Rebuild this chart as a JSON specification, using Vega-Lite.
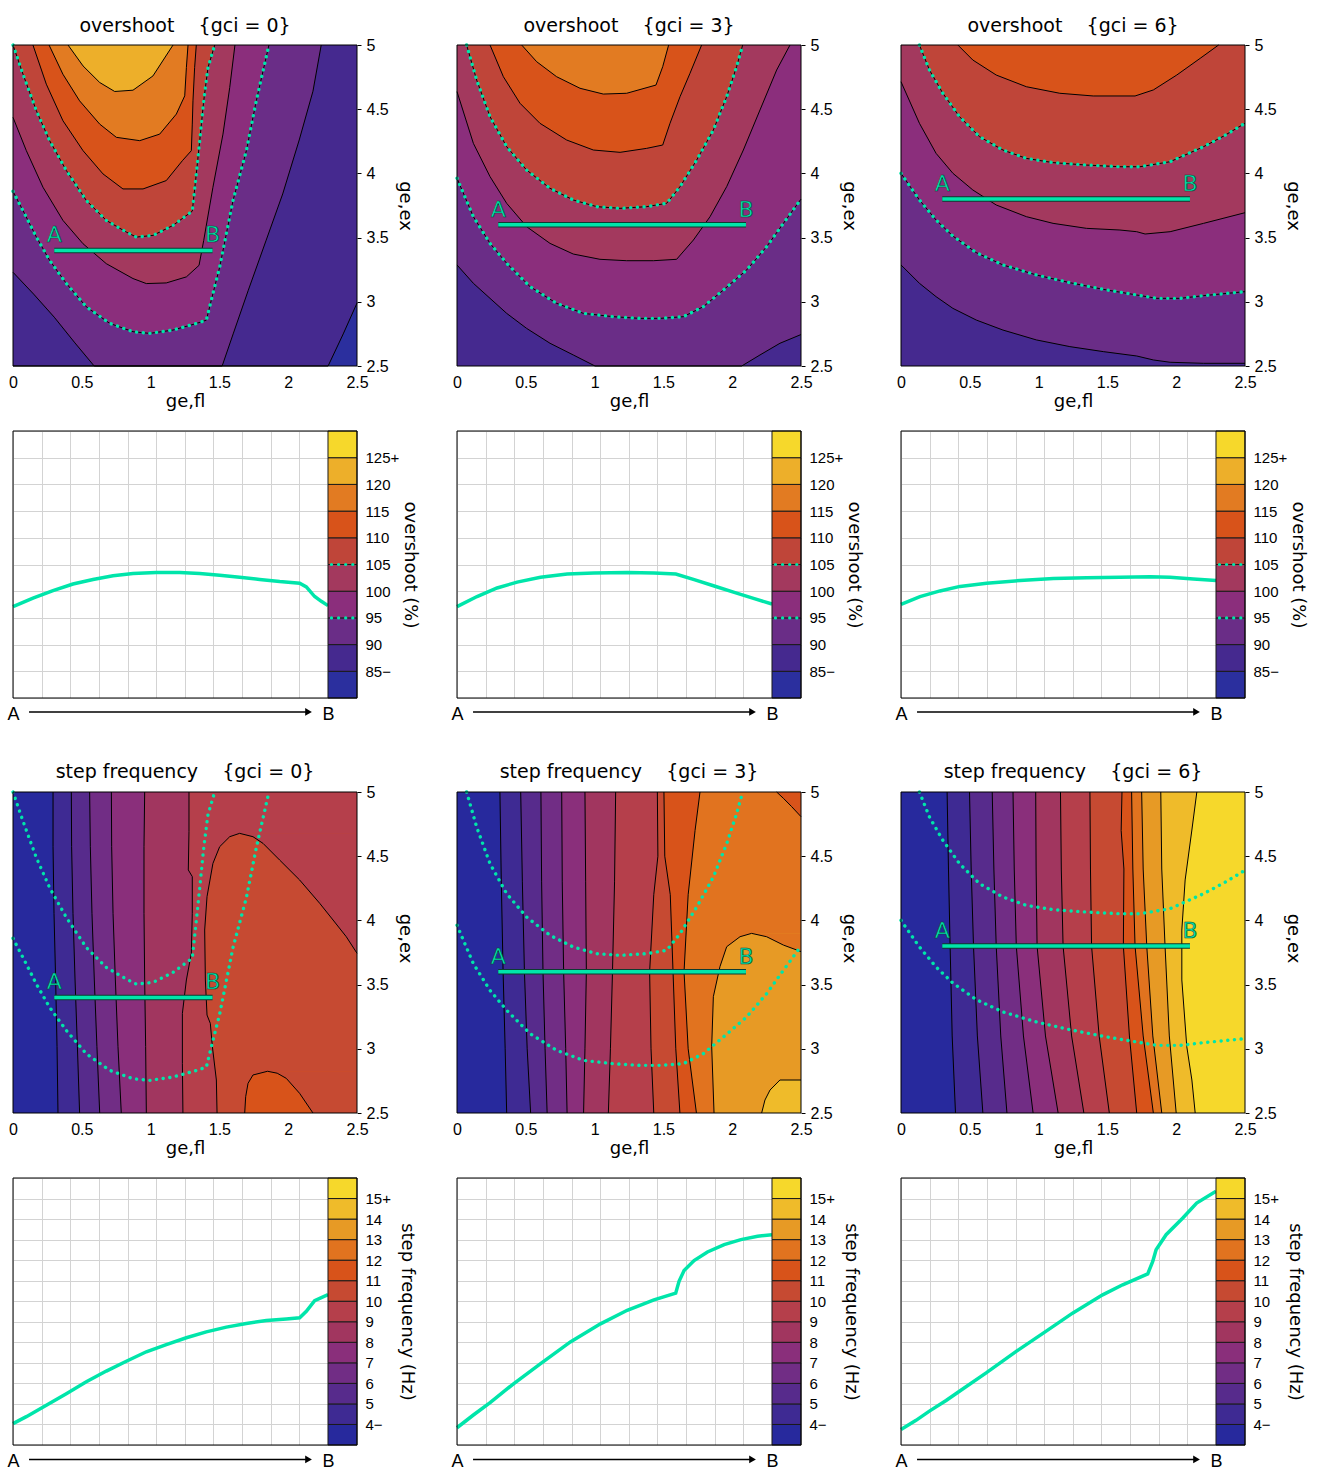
{
"$schema":"https://vega.github.io/schema/vega-lite/v6.json",
"padding":{"left":6,"top":17,"right":6,"bottom":0},
"config":{"font":"DejaVu Sans","view":{"stroke":null},"axis":{"labelFont":"Liberation Sans","titleFont":"DejaVu Sans","labelColor":"black","titleColor":"black"},"title":{"font":"DejaVu Sans","color":"black"},"text":{"font":"DejaVu Sans"}},
"resolve":{"scale":{"color":"independent"}},
"columns":3,
"spacing":{"row":65,"column":100},
"bounds":"flush",
"concat":[
{"width":344,"height":321,"title":{"text":"overshoot\u00a0\u00a0\u00a0\u00a0{gci = 0}","fontSize":19,"fontWeight":"normal","offset":1,"frame":"group"},
"encoding":{"x":{"type":"quantitative","stack":null,"scale":{"domain":[0,2.5],"nice":false,"zero":false},"axis":{"values":[0,0.5,1,1.5,2,2.5],"format":"~g","ticks":false,"domain":false,"grid":false,"labelFlush":false,"labelOverlap":false,"labelFontSize":16,"labelPadding":8,"title":"ge,fl","titleFontSize":18,"titleFontWeight":"normal","titlePadding":2}},"y":{"type":"quantitative","stack":null,"scale":{"domain":[2.5,5],"nice":false,"zero":false},"axis":{"orient":"right","values":[2.5,3,3.5,4,4.5,5],"format":"~g","tickSize":4,"tickColor":"black","domain":false,"grid":false,"labelFlush":false,"labelOverlap":false,"labelFontSize":16,"labelPadding":5,"title":"ge,ex","titleFontSize":18,"titleFontWeight":"normal","titlePadding":7}}},
"layer":[
{"data":{"values":[{}]},"mark":{"type":"rect","color":"#2b2f9e"},"encoding":{"x":{"datum":0},"x2":{"datum":2.5},"y":{"datum":2.5},"y2":{"datum":5}}},
{"data":{"name":"oc"},"transform":[{"filter":"datum.p==0"}],"mark":{"type":"area","orient":"vertical"},"encoding":{"x":{"field":"x"},"y":{"field":"y"},"y2":{"datum":5},"color":{"field":"b","type":"ordinal","scale":{"domain":[0,1,2,3,4,5,6,7,8,9],"range":["#2b2f9e","#45298f","#6a2d87","#8b2e7c","#a3395e","#bf4539","#d8531a","#e27b22","#edaf2a","#f6d82b"]},"legend":null},"order":{"value":null}}},
{"data":{"name":"oc"},"transform":[{"filter":"datum.p==0"}],"mark":{"type":"line","color":"black","strokeWidth":1},"encoding":{"x":{"field":"x"},"y":{"field":"y"},"detail":{"field":"b","type":"nominal"},"order":{"value":null}}},
{"data":{"name":"oc"},"transform":[{"filter":"datum.p==0&&(datum.b==3||datum.b==5)"}],"mark":{"type":"line","color":"#00e5aa","strokeWidth":3.4,"strokeDash":[0.1,6.6],"strokeCap":"round"},"encoding":{"x":{"field":"x"},"y":{"field":"y"},"detail":{"field":"b","type":"nominal"},"order":{"value":null}}},
{"data":{"name":"ab"},"transform":[{"filter":"datum.p==0"}],"mark":{"type":"line","color":"#0d3b31","strokeWidth":5.5},"encoding":{"x":{"field":"x"},"y":{"field":"y"}}},
{"data":{"name":"ab"},"transform":[{"filter":"datum.p==0"}],"mark":{"type":"line","color":"#00e5aa","strokeWidth":3.5},"encoding":{"x":{"field":"x"},"y":{"field":"y"}}},
{"data":{"name":"ab"},"transform":[{"filter":"datum.p==0"}],"mark":{"type":"text","fontSize":22,"dy":-15,"fill":"#00e5aa","stroke":"#0d3b31","strokeWidth":0.6},"encoding":{"x":{"field":"x"},"y":{"field":"y"},"text":{"field":"pt"}}},
{"data":{"values":[{}]},"mark":{"type":"rect","filled":false,"stroke":"black","strokeWidth":1},"encoding":{"x":{"datum":0},"x2":{"datum":2.5},"y":{"datum":2.5},"y2":{"datum":5}}}
]},
{"width":344,"height":321,"title":{"text":"overshoot\u00a0\u00a0\u00a0\u00a0{gci = 3}","fontSize":19,"fontWeight":"normal","offset":1,"frame":"group"},
"encoding":{"x":{"type":"quantitative","stack":null,"scale":{"domain":[0,2.5],"nice":false,"zero":false},"axis":{"values":[0,0.5,1,1.5,2,2.5],"format":"~g","ticks":false,"domain":false,"grid":false,"labelFlush":false,"labelOverlap":false,"labelFontSize":16,"labelPadding":8,"title":"ge,fl","titleFontSize":18,"titleFontWeight":"normal","titlePadding":2}},"y":{"type":"quantitative","stack":null,"scale":{"domain":[2.5,5],"nice":false,"zero":false},"axis":{"orient":"right","values":[2.5,3,3.5,4,4.5,5],"format":"~g","tickSize":4,"tickColor":"black","domain":false,"grid":false,"labelFlush":false,"labelOverlap":false,"labelFontSize":16,"labelPadding":5,"title":"ge,ex","titleFontSize":18,"titleFontWeight":"normal","titlePadding":7}}},
"layer":[
{"data":{"values":[{}]},"mark":{"type":"rect","color":"#45298f"},"encoding":{"x":{"datum":0},"x2":{"datum":2.5},"y":{"datum":2.5},"y2":{"datum":5}}},
{"data":{"name":"oc"},"transform":[{"filter":"datum.p==1"}],"mark":{"type":"area","orient":"vertical"},"encoding":{"x":{"field":"x"},"y":{"field":"y"},"y2":{"datum":5},"color":{"field":"b","type":"ordinal","scale":{"domain":[0,1,2,3,4,5,6,7,8,9],"range":["#2b2f9e","#45298f","#6a2d87","#8b2e7c","#a3395e","#bf4539","#d8531a","#e27b22","#edaf2a","#f6d82b"]},"legend":null},"order":{"value":null}}},
{"data":{"name":"oc"},"transform":[{"filter":"datum.p==1"}],"mark":{"type":"line","color":"black","strokeWidth":1},"encoding":{"x":{"field":"x"},"y":{"field":"y"},"detail":{"field":"b","type":"nominal"},"order":{"value":null}}},
{"data":{"name":"oc"},"transform":[{"filter":"datum.p==1&&(datum.b==3||datum.b==5)"}],"mark":{"type":"line","color":"#00e5aa","strokeWidth":3.4,"strokeDash":[0.1,6.6],"strokeCap":"round"},"encoding":{"x":{"field":"x"},"y":{"field":"y"},"detail":{"field":"b","type":"nominal"},"order":{"value":null}}},
{"data":{"name":"ab"},"transform":[{"filter":"datum.p==1"}],"mark":{"type":"line","color":"#0d3b31","strokeWidth":5.5},"encoding":{"x":{"field":"x"},"y":{"field":"y"}}},
{"data":{"name":"ab"},"transform":[{"filter":"datum.p==1"}],"mark":{"type":"line","color":"#00e5aa","strokeWidth":3.5},"encoding":{"x":{"field":"x"},"y":{"field":"y"}}},
{"data":{"name":"ab"},"transform":[{"filter":"datum.p==1"}],"mark":{"type":"text","fontSize":22,"dy":-15,"fill":"#00e5aa","stroke":"#0d3b31","strokeWidth":0.6},"encoding":{"x":{"field":"x"},"y":{"field":"y"},"text":{"field":"pt"}}},
{"data":{"values":[{}]},"mark":{"type":"rect","filled":false,"stroke":"black","strokeWidth":1},"encoding":{"x":{"datum":0},"x2":{"datum":2.5},"y":{"datum":2.5},"y2":{"datum":5}}}
]},
{"width":344,"height":321,"title":{"text":"overshoot\u00a0\u00a0\u00a0\u00a0{gci = 6}","fontSize":19,"fontWeight":"normal","offset":1,"frame":"group"},
"encoding":{"x":{"type":"quantitative","stack":null,"scale":{"domain":[0,2.5],"nice":false,"zero":false},"axis":{"values":[0,0.5,1,1.5,2,2.5],"format":"~g","ticks":false,"domain":false,"grid":false,"labelFlush":false,"labelOverlap":false,"labelFontSize":16,"labelPadding":8,"title":"ge,fl","titleFontSize":18,"titleFontWeight":"normal","titlePadding":2}},"y":{"type":"quantitative","stack":null,"scale":{"domain":[2.5,5],"nice":false,"zero":false},"axis":{"orient":"right","values":[2.5,3,3.5,4,4.5,5],"format":"~g","tickSize":4,"tickColor":"black","domain":false,"grid":false,"labelFlush":false,"labelOverlap":false,"labelFontSize":16,"labelPadding":5,"title":"ge,ex","titleFontSize":18,"titleFontWeight":"normal","titlePadding":7}}},
"layer":[
{"data":{"values":[{}]},"mark":{"type":"rect","color":"#45298f"},"encoding":{"x":{"datum":0},"x2":{"datum":2.5},"y":{"datum":2.5},"y2":{"datum":5}}},
{"data":{"name":"oc"},"transform":[{"filter":"datum.p==2"}],"mark":{"type":"area","orient":"vertical"},"encoding":{"x":{"field":"x"},"y":{"field":"y"},"y2":{"datum":5},"color":{"field":"b","type":"ordinal","scale":{"domain":[0,1,2,3,4,5,6,7,8,9],"range":["#2b2f9e","#45298f","#6a2d87","#8b2e7c","#a3395e","#bf4539","#d8531a","#e27b22","#edaf2a","#f6d82b"]},"legend":null},"order":{"value":null}}},
{"data":{"name":"oc"},"transform":[{"filter":"datum.p==2"}],"mark":{"type":"line","color":"black","strokeWidth":1},"encoding":{"x":{"field":"x"},"y":{"field":"y"},"detail":{"field":"b","type":"nominal"},"order":{"value":null}}},
{"data":{"name":"oc"},"transform":[{"filter":"datum.p==2&&(datum.b==3||datum.b==5)"}],"mark":{"type":"line","color":"#00e5aa","strokeWidth":3.4,"strokeDash":[0.1,6.6],"strokeCap":"round"},"encoding":{"x":{"field":"x"},"y":{"field":"y"},"detail":{"field":"b","type":"nominal"},"order":{"value":null}}},
{"data":{"name":"ab"},"transform":[{"filter":"datum.p==2"}],"mark":{"type":"line","color":"#0d3b31","strokeWidth":5.5},"encoding":{"x":{"field":"x"},"y":{"field":"y"}}},
{"data":{"name":"ab"},"transform":[{"filter":"datum.p==2"}],"mark":{"type":"line","color":"#00e5aa","strokeWidth":3.5},"encoding":{"x":{"field":"x"},"y":{"field":"y"}}},
{"data":{"name":"ab"},"transform":[{"filter":"datum.p==2"}],"mark":{"type":"text","fontSize":22,"dy":-15,"fill":"#00e5aa","stroke":"#0d3b31","strokeWidth":0.6},"encoding":{"x":{"field":"x"},"y":{"field":"y"},"text":{"field":"pt"}}},
{"data":{"values":[{}]},"mark":{"type":"rect","filled":false,"stroke":"black","strokeWidth":1},"encoding":{"x":{"datum":0},"x2":{"datum":2.5},"y":{"datum":2.5},"y2":{"datum":5}}}
]},
{"width":344,"height":267,
"encoding":{"x":{"type":"quantitative","scale":{"domain":[0,12.0127],"nice":false,"zero":false},"axis":{"values":[0,1,2,3,4,5,6,7,8,9,10,11],"grid":true,"gridColor":"#d3d3d3","ticks":false,"domain":false,"labelFlush":false,"labelOverlap":false,"labelExpr":"datum.value==0?'A':datum.value==11?'B':''","labelFontSize":18,"labelPadding":7,"title":null}},"y":{"type":"quantitative","scale":{"domain":[80,130],"nice":false,"zero":false},"axis":{"orient":"right","values":[80,85,90,95,100,105,110,115,120,125,130],"grid":true,"gridColor":"#d3d3d3","ticks":false,"domain":false,"labelFlush":false,"labelOverlap":false,"labelExpr":"datum.value==125?'125+':datum.value==85?'85\u2212':(datum.value>85&&datum.value<125)?datum.label:''","labelFontSize":15,"labelPadding":8,"title":"overshoot (%)","titleFontSize":18,"titleFontWeight":"normal","titlePadding":2}}},
"layer":[
{"data":{"name":"ol"},"transform":[{"filter":"datum.p==0"}],"mark":{"type":"line","color":"#00e5aa","strokeWidth":3.5},"encoding":{"x":{"field":"s"},"y":{"field":"v"}}},
{"data":{"name":"cbo"},"mark":{"type":"rect","stroke":"#1a1a1a","strokeWidth":1},"encoding":{"x":{"datum":11},"x2":{"datum":12.0127},"y":{"field":"lo"},"y2":{"field":"hi"},"color":{"field":"b","type":"ordinal","scale":{"domain":[0,1,2,3,4,5,6,7,8,9],"range":["#2b2f9e","#45298f","#6a2d87","#8b2e7c","#a3395e","#bf4539","#d8531a","#e27b22","#edaf2a","#f6d82b"]},"legend":null}}},
{"data":{"values":[{"v":95},{"v":105}]},"mark":{"type":"rule","color":"#00e5aa","strokeWidth":3.2,"strokeDash":[0.1,7],"strokeCap":"round"},"encoding":{"x":{"datum":11.12},"x2":{"datum":12.0},"y":{"field":"v"}}},
{"data":{"values":[{}]},"mark":{"type":"rect","filled":false,"stroke":"black","strokeWidth":1},"encoding":{"x":{"datum":0},"x2":{"datum":12.0127},"y":{"datum":80},"y2":{"datum":130}}},
{"data":{"values":[{}]},"mark":{"type":"rule","color":"black","strokeWidth":1.5,"clip":false},"encoding":{"x":{"datum":0.56},"x2":{"datum":10.3},"y":{"datum":77.4}}},
{"data":{"values":[{}]},"mark":{"type":"point","shape":"triangle-right","filled":true,"color":"black","opacity":1,"size":60,"clip":false},"encoding":{"x":{"datum":10.32},"y":{"datum":77.4}}}
]},
{"width":344,"height":267,
"encoding":{"x":{"type":"quantitative","scale":{"domain":[0,12.0127],"nice":false,"zero":false},"axis":{"values":[0,1,2,3,4,5,6,7,8,9,10,11],"grid":true,"gridColor":"#d3d3d3","ticks":false,"domain":false,"labelFlush":false,"labelOverlap":false,"labelExpr":"datum.value==0?'A':datum.value==11?'B':''","labelFontSize":18,"labelPadding":7,"title":null}},"y":{"type":"quantitative","scale":{"domain":[80,130],"nice":false,"zero":false},"axis":{"orient":"right","values":[80,85,90,95,100,105,110,115,120,125,130],"grid":true,"gridColor":"#d3d3d3","ticks":false,"domain":false,"labelFlush":false,"labelOverlap":false,"labelExpr":"datum.value==125?'125+':datum.value==85?'85\u2212':(datum.value>85&&datum.value<125)?datum.label:''","labelFontSize":15,"labelPadding":8,"title":"overshoot (%)","titleFontSize":18,"titleFontWeight":"normal","titlePadding":2}}},
"layer":[
{"data":{"name":"ol"},"transform":[{"filter":"datum.p==1"}],"mark":{"type":"line","color":"#00e5aa","strokeWidth":3.5},"encoding":{"x":{"field":"s"},"y":{"field":"v"}}},
{"data":{"name":"cbo"},"mark":{"type":"rect","stroke":"#1a1a1a","strokeWidth":1},"encoding":{"x":{"datum":11},"x2":{"datum":12.0127},"y":{"field":"lo"},"y2":{"field":"hi"},"color":{"field":"b","type":"ordinal","scale":{"domain":[0,1,2,3,4,5,6,7,8,9],"range":["#2b2f9e","#45298f","#6a2d87","#8b2e7c","#a3395e","#bf4539","#d8531a","#e27b22","#edaf2a","#f6d82b"]},"legend":null}}},
{"data":{"values":[{"v":95},{"v":105}]},"mark":{"type":"rule","color":"#00e5aa","strokeWidth":3.2,"strokeDash":[0.1,7],"strokeCap":"round"},"encoding":{"x":{"datum":11.12},"x2":{"datum":12.0},"y":{"field":"v"}}},
{"data":{"values":[{}]},"mark":{"type":"rect","filled":false,"stroke":"black","strokeWidth":1},"encoding":{"x":{"datum":0},"x2":{"datum":12.0127},"y":{"datum":80},"y2":{"datum":130}}},
{"data":{"values":[{}]},"mark":{"type":"rule","color":"black","strokeWidth":1.5,"clip":false},"encoding":{"x":{"datum":0.56},"x2":{"datum":10.3},"y":{"datum":77.4}}},
{"data":{"values":[{}]},"mark":{"type":"point","shape":"triangle-right","filled":true,"color":"black","opacity":1,"size":60,"clip":false},"encoding":{"x":{"datum":10.32},"y":{"datum":77.4}}}
]},
{"width":344,"height":267,
"encoding":{"x":{"type":"quantitative","scale":{"domain":[0,12.0127],"nice":false,"zero":false},"axis":{"values":[0,1,2,3,4,5,6,7,8,9,10,11],"grid":true,"gridColor":"#d3d3d3","ticks":false,"domain":false,"labelFlush":false,"labelOverlap":false,"labelExpr":"datum.value==0?'A':datum.value==11?'B':''","labelFontSize":18,"labelPadding":7,"title":null}},"y":{"type":"quantitative","scale":{"domain":[80,130],"nice":false,"zero":false},"axis":{"orient":"right","values":[80,85,90,95,100,105,110,115,120,125,130],"grid":true,"gridColor":"#d3d3d3","ticks":false,"domain":false,"labelFlush":false,"labelOverlap":false,"labelExpr":"datum.value==125?'125+':datum.value==85?'85\u2212':(datum.value>85&&datum.value<125)?datum.label:''","labelFontSize":15,"labelPadding":8,"title":"overshoot (%)","titleFontSize":18,"titleFontWeight":"normal","titlePadding":2}}},
"layer":[
{"data":{"name":"ol"},"transform":[{"filter":"datum.p==2"}],"mark":{"type":"line","color":"#00e5aa","strokeWidth":3.5},"encoding":{"x":{"field":"s"},"y":{"field":"v"}}},
{"data":{"name":"cbo"},"mark":{"type":"rect","stroke":"#1a1a1a","strokeWidth":1},"encoding":{"x":{"datum":11},"x2":{"datum":12.0127},"y":{"field":"lo"},"y2":{"field":"hi"},"color":{"field":"b","type":"ordinal","scale":{"domain":[0,1,2,3,4,5,6,7,8,9],"range":["#2b2f9e","#45298f","#6a2d87","#8b2e7c","#a3395e","#bf4539","#d8531a","#e27b22","#edaf2a","#f6d82b"]},"legend":null}}},
{"data":{"values":[{"v":95},{"v":105}]},"mark":{"type":"rule","color":"#00e5aa","strokeWidth":3.2,"strokeDash":[0.1,7],"strokeCap":"round"},"encoding":{"x":{"datum":11.12},"x2":{"datum":12.0},"y":{"field":"v"}}},
{"data":{"values":[{}]},"mark":{"type":"rect","filled":false,"stroke":"black","strokeWidth":1},"encoding":{"x":{"datum":0},"x2":{"datum":12.0127},"y":{"datum":80},"y2":{"datum":130}}},
{"data":{"values":[{}]},"mark":{"type":"rule","color":"black","strokeWidth":1.5,"clip":false},"encoding":{"x":{"datum":0.56},"x2":{"datum":10.3},"y":{"datum":77.4}}},
{"data":{"values":[{}]},"mark":{"type":"point","shape":"triangle-right","filled":true,"color":"black","opacity":1,"size":60,"clip":false},"encoding":{"x":{"datum":10.32},"y":{"datum":77.4}}}
]},
{"width":344,"height":350,"title":{"text":"step frequency\u00a0\u00a0\u00a0\u00a0{gci = 0}","fontSize":19,"fontWeight":"normal","offset":-19,"frame":"group"},
"encoding":{"x":{"type":"quantitative","stack":null,"scale":{"domain":[0,2.5],"nice":false,"zero":false},"axis":{"values":[0,0.5,1,1.5,2,2.5],"format":"~g","ticks":false,"domain":false,"grid":false,"labelFlush":false,"labelOverlap":false,"labelFontSize":16,"labelPadding":8,"title":"ge,fl","titleFontSize":18,"titleFontWeight":"normal","titlePadding":2}},"y":{"type":"quantitative","stack":null,"scale":{"domain":[2.5,5.2259],"nice":false,"zero":false},"axis":{"orient":"right","values":[2.5,3,3.5,4,4.5,5],"format":"~g","tickSize":4,"tickColor":"black","domain":false,"grid":false,"labelFlush":false,"labelOverlap":false,"labelFontSize":16,"labelPadding":5,"title":"ge,ex","titleFontSize":18,"titleFontWeight":"normal","titlePadding":7}}},
"layer":[
{"data":{"values":[{}]},"mark":{"type":"rect","color":"#27299d"},"encoding":{"x":{"datum":0},"x2":{"datum":2.5},"y":{"datum":2.5},"y2":{"datum":5}}},
{"data":{"name":"sc"},"transform":[{"filter":"datum.p==0"}],"mark":{"type":"area","orient":"horizontal"},"encoding":{"x":{"field":"x"},"x2":{"datum":2.5},"y":{"field":"y"},"color":{"field":"b","type":"ordinal","scale":{"domain":[0,1,2,3,4,5,6,7,8,9,10,11,12],"range":["#27299d","#3e2a93","#572b8c","#712d85","#8a2f7b","#a1365f","#b53f4b","#c64a32","#d8531a","#e1731f","#e79a25","#efbb2a","#f6d82b"]},"legend":null},"detail":{"field":"g","type":"nominal"},"order":{"value":null}}},
{"data":{"name":"sc"},"transform":[{"filter":"datum.p==0"}],"mark":{"type":"line","color":"black","strokeWidth":1},"encoding":{"x":{"field":"x"},"y":{"field":"y"},"detail":{"field":"g","type":"nominal"},"order":{"value":null}}},
{"data":{"name":"oc"},"transform":[{"filter":"datum.p==0&&(datum.b==3||datum.b==5)"}],"mark":{"type":"line","color":"#00e5aa","strokeWidth":3.4,"strokeDash":[0.1,6.6],"strokeCap":"round"},"encoding":{"x":{"field":"x"},"y":{"field":"y"},"detail":{"field":"b","type":"nominal"},"order":{"value":null}}},
{"data":{"name":"ab"},"transform":[{"filter":"datum.p==0"}],"mark":{"type":"line","color":"#0d3b31","strokeWidth":5.5},"encoding":{"x":{"field":"x"},"y":{"field":"y"}}},
{"data":{"name":"ab"},"transform":[{"filter":"datum.p==0"}],"mark":{"type":"line","color":"#00e5aa","strokeWidth":3.5},"encoding":{"x":{"field":"x"},"y":{"field":"y"}}},
{"data":{"name":"ab"},"transform":[{"filter":"datum.p==0"}],"mark":{"type":"text","fontSize":22,"dy":-15,"fill":"#00e5aa","stroke":"#0d3b31","strokeWidth":0.6},"encoding":{"x":{"field":"x"},"y":{"field":"y"},"text":{"field":"pt"}}},
{"data":{"values":[{}]},"mark":{"type":"rect","filled":false,"stroke":"black","strokeWidth":1},"encoding":{"x":{"datum":0},"x2":{"datum":2.5},"y":{"datum":2.5},"y2":{"datum":5}}}
]},
{"width":344,"height":350,"title":{"text":"step frequency\u00a0\u00a0\u00a0\u00a0{gci = 3}","fontSize":19,"fontWeight":"normal","offset":-19,"frame":"group"},
"encoding":{"x":{"type":"quantitative","stack":null,"scale":{"domain":[0,2.5],"nice":false,"zero":false},"axis":{"values":[0,0.5,1,1.5,2,2.5],"format":"~g","ticks":false,"domain":false,"grid":false,"labelFlush":false,"labelOverlap":false,"labelFontSize":16,"labelPadding":8,"title":"ge,fl","titleFontSize":18,"titleFontWeight":"normal","titlePadding":2}},"y":{"type":"quantitative","stack":null,"scale":{"domain":[2.5,5.2259],"nice":false,"zero":false},"axis":{"orient":"right","values":[2.5,3,3.5,4,4.5,5],"format":"~g","tickSize":4,"tickColor":"black","domain":false,"grid":false,"labelFlush":false,"labelOverlap":false,"labelFontSize":16,"labelPadding":5,"title":"ge,ex","titleFontSize":18,"titleFontWeight":"normal","titlePadding":7}}},
"layer":[
{"data":{"values":[{}]},"mark":{"type":"rect","color":"#27299d"},"encoding":{"x":{"datum":0},"x2":{"datum":2.5},"y":{"datum":2.5},"y2":{"datum":5}}},
{"data":{"name":"sc"},"transform":[{"filter":"datum.p==1"}],"mark":{"type":"area","orient":"horizontal"},"encoding":{"x":{"field":"x"},"x2":{"datum":2.5},"y":{"field":"y"},"color":{"field":"b","type":"ordinal","scale":{"domain":[0,1,2,3,4,5,6,7,8,9,10,11,12],"range":["#27299d","#3e2a93","#572b8c","#712d85","#8a2f7b","#a1365f","#b53f4b","#c64a32","#d8531a","#e1731f","#e79a25","#efbb2a","#f6d82b"]},"legend":null},"detail":{"field":"g","type":"nominal"},"order":{"value":null}}},
{"data":{"name":"sc"},"transform":[{"filter":"datum.p==1"}],"mark":{"type":"line","color":"black","strokeWidth":1},"encoding":{"x":{"field":"x"},"y":{"field":"y"},"detail":{"field":"g","type":"nominal"},"order":{"value":null}}},
{"data":{"name":"oc"},"transform":[{"filter":"datum.p==1&&(datum.b==3||datum.b==5)"}],"mark":{"type":"line","color":"#00e5aa","strokeWidth":3.4,"strokeDash":[0.1,6.6],"strokeCap":"round"},"encoding":{"x":{"field":"x"},"y":{"field":"y"},"detail":{"field":"b","type":"nominal"},"order":{"value":null}}},
{"data":{"name":"ab"},"transform":[{"filter":"datum.p==1"}],"mark":{"type":"line","color":"#0d3b31","strokeWidth":5.5},"encoding":{"x":{"field":"x"},"y":{"field":"y"}}},
{"data":{"name":"ab"},"transform":[{"filter":"datum.p==1"}],"mark":{"type":"line","color":"#00e5aa","strokeWidth":3.5},"encoding":{"x":{"field":"x"},"y":{"field":"y"}}},
{"data":{"name":"ab"},"transform":[{"filter":"datum.p==1"}],"mark":{"type":"text","fontSize":22,"dy":-15,"fill":"#00e5aa","stroke":"#0d3b31","strokeWidth":0.6},"encoding":{"x":{"field":"x"},"y":{"field":"y"},"text":{"field":"pt"}}},
{"data":{"values":[{}]},"mark":{"type":"rect","filled":false,"stroke":"black","strokeWidth":1},"encoding":{"x":{"datum":0},"x2":{"datum":2.5},"y":{"datum":2.5},"y2":{"datum":5}}}
]},
{"width":344,"height":350,"title":{"text":"step frequency\u00a0\u00a0\u00a0\u00a0{gci = 6}","fontSize":19,"fontWeight":"normal","offset":-19,"frame":"group"},
"encoding":{"x":{"type":"quantitative","stack":null,"scale":{"domain":[0,2.5],"nice":false,"zero":false},"axis":{"values":[0,0.5,1,1.5,2,2.5],"format":"~g","ticks":false,"domain":false,"grid":false,"labelFlush":false,"labelOverlap":false,"labelFontSize":16,"labelPadding":8,"title":"ge,fl","titleFontSize":18,"titleFontWeight":"normal","titlePadding":2}},"y":{"type":"quantitative","stack":null,"scale":{"domain":[2.5,5.2259],"nice":false,"zero":false},"axis":{"orient":"right","values":[2.5,3,3.5,4,4.5,5],"format":"~g","tickSize":4,"tickColor":"black","domain":false,"grid":false,"labelFlush":false,"labelOverlap":false,"labelFontSize":16,"labelPadding":5,"title":"ge,ex","titleFontSize":18,"titleFontWeight":"normal","titlePadding":7}}},
"layer":[
{"data":{"values":[{}]},"mark":{"type":"rect","color":"#27299d"},"encoding":{"x":{"datum":0},"x2":{"datum":2.5},"y":{"datum":2.5},"y2":{"datum":5}}},
{"data":{"name":"sc"},"transform":[{"filter":"datum.p==2"}],"mark":{"type":"area","orient":"horizontal"},"encoding":{"x":{"field":"x"},"x2":{"datum":2.5},"y":{"field":"y"},"color":{"field":"b","type":"ordinal","scale":{"domain":[0,1,2,3,4,5,6,7,8,9,10,11,12],"range":["#27299d","#3e2a93","#572b8c","#712d85","#8a2f7b","#a1365f","#b53f4b","#c64a32","#d8531a","#e1731f","#e79a25","#efbb2a","#f6d82b"]},"legend":null},"detail":{"field":"g","type":"nominal"},"order":{"value":null}}},
{"data":{"name":"sc"},"transform":[{"filter":"datum.p==2"}],"mark":{"type":"line","color":"black","strokeWidth":1},"encoding":{"x":{"field":"x"},"y":{"field":"y"},"detail":{"field":"g","type":"nominal"},"order":{"value":null}}},
{"data":{"name":"oc"},"transform":[{"filter":"datum.p==2&&(datum.b==3||datum.b==5)"}],"mark":{"type":"line","color":"#00e5aa","strokeWidth":3.4,"strokeDash":[0.1,6.6],"strokeCap":"round"},"encoding":{"x":{"field":"x"},"y":{"field":"y"},"detail":{"field":"b","type":"nominal"},"order":{"value":null}}},
{"data":{"name":"ab"},"transform":[{"filter":"datum.p==2"}],"mark":{"type":"line","color":"#0d3b31","strokeWidth":5.5},"encoding":{"x":{"field":"x"},"y":{"field":"y"}}},
{"data":{"name":"ab"},"transform":[{"filter":"datum.p==2"}],"mark":{"type":"line","color":"#00e5aa","strokeWidth":3.5},"encoding":{"x":{"field":"x"},"y":{"field":"y"}}},
{"data":{"name":"ab"},"transform":[{"filter":"datum.p==2"}],"mark":{"type":"text","fontSize":22,"dy":-15,"fill":"#00e5aa","stroke":"#0d3b31","strokeWidth":0.6},"encoding":{"x":{"field":"x"},"y":{"field":"y"},"text":{"field":"pt"}}},
{"data":{"values":[{}]},"mark":{"type":"rect","filled":false,"stroke":"black","strokeWidth":1},"encoding":{"x":{"datum":0},"x2":{"datum":2.5},"y":{"datum":2.5},"y2":{"datum":5}}}
]},
{"width":344,"height":267,
"encoding":{"x":{"type":"quantitative","scale":{"domain":[0,12.0127],"nice":false,"zero":false},"axis":{"values":[0,1,2,3,4,5,6,7,8,9,10,11],"grid":true,"gridColor":"#d3d3d3","ticks":false,"domain":false,"labelFlush":false,"labelOverlap":false,"labelExpr":"datum.value==0?'A':datum.value==11?'B':''","labelFontSize":18,"labelPadding":7,"title":null}},"y":{"type":"quantitative","scale":{"domain":[3,16],"nice":false,"zero":false},"axis":{"orient":"right","values":[3,4,5,6,7,8,9,10,11,12,13,14,15,16],"grid":true,"gridColor":"#d3d3d3","ticks":false,"domain":false,"labelFlush":false,"labelOverlap":false,"labelExpr":"datum.value==15?'15+':datum.value==4?'4\u2212':(datum.value>4&&datum.value<15)?datum.label:''","labelFontSize":15,"labelPadding":8,"title":"step frequency (Hz)","titleFontSize":18,"titleFontWeight":"normal","titlePadding":7}}},
"layer":[
{"data":{"name":"sl"},"transform":[{"filter":"datum.p==0"}],"mark":{"type":"line","color":"#00e5aa","strokeWidth":3.5},"encoding":{"x":{"field":"s"},"y":{"field":"v"}}},
{"data":{"name":"cbs"},"mark":{"type":"rect","stroke":"#1a1a1a","strokeWidth":1},"encoding":{"x":{"datum":11},"x2":{"datum":12.0127},"y":{"field":"lo"},"y2":{"field":"hi"},"color":{"field":"b","type":"ordinal","scale":{"domain":[0,1,2,3,4,5,6,7,8,9,10,11,12],"range":["#27299d","#3e2a93","#572b8c","#712d85","#8a2f7b","#a1365f","#b53f4b","#c64a32","#d8531a","#e1731f","#e79a25","#efbb2a","#f6d82b"]},"legend":null}}},
{"data":{"values":[{}]},"mark":{"type":"rect","filled":false,"stroke":"black","strokeWidth":1},"encoding":{"x":{"datum":0},"x2":{"datum":12.0127},"y":{"datum":3},"y2":{"datum":16}}},
{"data":{"values":[{}]},"mark":{"type":"rule","color":"black","strokeWidth":1.5,"clip":false},"encoding":{"x":{"datum":0.56},"x2":{"datum":10.3},"y":{"datum":2.3}}},
{"data":{"values":[{}]},"mark":{"type":"point","shape":"triangle-right","filled":true,"color":"black","opacity":1,"size":60,"clip":false},"encoding":{"x":{"datum":10.32},"y":{"datum":2.3}}}
]},
{"width":344,"height":267,
"encoding":{"x":{"type":"quantitative","scale":{"domain":[0,12.0127],"nice":false,"zero":false},"axis":{"values":[0,1,2,3,4,5,6,7,8,9,10,11],"grid":true,"gridColor":"#d3d3d3","ticks":false,"domain":false,"labelFlush":false,"labelOverlap":false,"labelExpr":"datum.value==0?'A':datum.value==11?'B':''","labelFontSize":18,"labelPadding":7,"title":null}},"y":{"type":"quantitative","scale":{"domain":[3,16],"nice":false,"zero":false},"axis":{"orient":"right","values":[3,4,5,6,7,8,9,10,11,12,13,14,15,16],"grid":true,"gridColor":"#d3d3d3","ticks":false,"domain":false,"labelFlush":false,"labelOverlap":false,"labelExpr":"datum.value==15?'15+':datum.value==4?'4\u2212':(datum.value>4&&datum.value<15)?datum.label:''","labelFontSize":15,"labelPadding":8,"title":"step frequency (Hz)","titleFontSize":18,"titleFontWeight":"normal","titlePadding":7}}},
"layer":[
{"data":{"name":"sl"},"transform":[{"filter":"datum.p==1"}],"mark":{"type":"line","color":"#00e5aa","strokeWidth":3.5},"encoding":{"x":{"field":"s"},"y":{"field":"v"}}},
{"data":{"name":"cbs"},"mark":{"type":"rect","stroke":"#1a1a1a","strokeWidth":1},"encoding":{"x":{"datum":11},"x2":{"datum":12.0127},"y":{"field":"lo"},"y2":{"field":"hi"},"color":{"field":"b","type":"ordinal","scale":{"domain":[0,1,2,3,4,5,6,7,8,9,10,11,12],"range":["#27299d","#3e2a93","#572b8c","#712d85","#8a2f7b","#a1365f","#b53f4b","#c64a32","#d8531a","#e1731f","#e79a25","#efbb2a","#f6d82b"]},"legend":null}}},
{"data":{"values":[{}]},"mark":{"type":"rect","filled":false,"stroke":"black","strokeWidth":1},"encoding":{"x":{"datum":0},"x2":{"datum":12.0127},"y":{"datum":3},"y2":{"datum":16}}},
{"data":{"values":[{}]},"mark":{"type":"rule","color":"black","strokeWidth":1.5,"clip":false},"encoding":{"x":{"datum":0.56},"x2":{"datum":10.3},"y":{"datum":2.3}}},
{"data":{"values":[{}]},"mark":{"type":"point","shape":"triangle-right","filled":true,"color":"black","opacity":1,"size":60,"clip":false},"encoding":{"x":{"datum":10.32},"y":{"datum":2.3}}}
]},
{"width":344,"height":267,
"encoding":{"x":{"type":"quantitative","scale":{"domain":[0,12.0127],"nice":false,"zero":false},"axis":{"values":[0,1,2,3,4,5,6,7,8,9,10,11],"grid":true,"gridColor":"#d3d3d3","ticks":false,"domain":false,"labelFlush":false,"labelOverlap":false,"labelExpr":"datum.value==0?'A':datum.value==11?'B':''","labelFontSize":18,"labelPadding":7,"title":null}},"y":{"type":"quantitative","scale":{"domain":[3,16],"nice":false,"zero":false},"axis":{"orient":"right","values":[3,4,5,6,7,8,9,10,11,12,13,14,15,16],"grid":true,"gridColor":"#d3d3d3","ticks":false,"domain":false,"labelFlush":false,"labelOverlap":false,"labelExpr":"datum.value==15?'15+':datum.value==4?'4\u2212':(datum.value>4&&datum.value<15)?datum.label:''","labelFontSize":15,"labelPadding":8,"title":"step frequency (Hz)","titleFontSize":18,"titleFontWeight":"normal","titlePadding":7}}},
"layer":[
{"data":{"name":"sl"},"transform":[{"filter":"datum.p==2"}],"mark":{"type":"line","color":"#00e5aa","strokeWidth":3.5},"encoding":{"x":{"field":"s"},"y":{"field":"v"}}},
{"data":{"name":"cbs"},"mark":{"type":"rect","stroke":"#1a1a1a","strokeWidth":1},"encoding":{"x":{"datum":11},"x2":{"datum":12.0127},"y":{"field":"lo"},"y2":{"field":"hi"},"color":{"field":"b","type":"ordinal","scale":{"domain":[0,1,2,3,4,5,6,7,8,9,10,11,12],"range":["#27299d","#3e2a93","#572b8c","#712d85","#8a2f7b","#a1365f","#b53f4b","#c64a32","#d8531a","#e1731f","#e79a25","#efbb2a","#f6d82b"]},"legend":null}}},
{"data":{"values":[{}]},"mark":{"type":"rect","filled":false,"stroke":"black","strokeWidth":1},"encoding":{"x":{"datum":0},"x2":{"datum":12.0127},"y":{"datum":3},"y2":{"datum":16}}},
{"data":{"values":[{}]},"mark":{"type":"rule","color":"black","strokeWidth":1.5,"clip":false},"encoding":{"x":{"datum":0.56},"x2":{"datum":10.3},"y":{"datum":2.3}}},
{"data":{"values":[{}]},"mark":{"type":"point","shape":"triangle-right","filled":true,"color":"black","opacity":1,"size":60,"clip":false},"encoding":{"x":{"datum":10.32},"y":{"datum":2.3}}}
]}
],
"datasets":{
"ab":[{"p":0,"pt":"A","x":0.3,"y":3.4},{"p":0,"pt":"B","x":1.45,"y":3.4},{"p":1,"pt":"A","x":0.3,"y":3.6},{"p":1,"pt":"B","x":2.1,"y":3.6},{"p":2,"pt":"A","x":0.3,"y":3.8},{"p":2,"pt":"B","x":2.1,"y":3.8}],
"cbo":[{"b":0,"lo":80,"hi":85},{"b":1,"lo":85,"hi":90},{"b":2,"lo":90,"hi":95},{"b":3,"lo":95,"hi":100},{"b":4,"lo":100,"hi":105},{"b":5,"lo":105,"hi":110},{"b":6,"lo":110,"hi":115},{"b":7,"lo":115,"hi":120},{"b":8,"lo":120,"hi":125},{"b":9,"lo":125,"hi":130}],
"cbs":[{"b":0,"lo":3,"hi":4},{"b":1,"lo":4,"hi":5},{"b":2,"lo":5,"hi":6},{"b":3,"lo":6,"hi":7},{"b":4,"lo":7,"hi":8},{"b":5,"lo":8,"hi":9},{"b":6,"lo":9,"hi":10},{"b":7,"lo":10,"hi":11},{"b":8,"lo":11,"hi":12},{"b":9,"lo":12,"hi":13},{"b":10,"lo":13,"hi":14},{"b":11,"lo":14,"hi":15},{"b":12,"lo":15,"hi":16}],
"ol":[
{"p":0,"s":0,"v":97.1},{"p":0,"s":0.698,"v":98.7},{"p":0,"s":1.397,"v":100.1},{"p":0,"s":2.095,"v":101.35},{"p":0,"s":2.794,"v":102.2},{"p":0,"s":3.492,"v":102.9},{"p":0,"s":4.19,"v":103.3},{"p":0,"s":5.005,"v":103.5},{"p":0,"s":5.82,"v":103.5},{"p":0,"s":6.519,"v":103.3},{"p":0,"s":7.217,"v":103.0},{"p":0,"s":7.915,"v":102.6},{"p":0,"s":8.614,"v":102.2},{"p":0,"s":9.312,"v":101.8},{"p":0,"s":10.011,"v":101.5},{"p":0,"s":10.243,"v":100.8},{"p":0,"s":10.534,"v":99.0},{"p":0,"s":10.767,"v":98.1},{"p":0,"s":11,"v":97.3},
{"p":1,"s":0,"v":97.1},{"p":1,"s":0.7,"v":99.0},{"p":1,"s":1.4,"v":100.6},{"p":1,"s":2.1,"v":101.7},{"p":1,"s":2.916,"v":102.6},{"p":1,"s":3.849,"v":103.2},{"p":1,"s":4.783,"v":103.4},{"p":1,"s":5.949,"v":103.5},{"p":1,"s":6.882,"v":103.4},{"p":1,"s":7.641,"v":103.2},{"p":1,"s":8.282,"v":102.16},{"p":1,"s":8.982,"v":100.97},{"p":1,"s":9.682,"v":99.78},{"p":1,"s":10.382,"v":98.6},{"p":1,"s":11,"v":97.6},
{"p":2,"s":0,"v":97.55},{"p":2,"s":0.663,"v":99.0},{"p":2,"s":1.362,"v":100.05},{"p":2,"s":2.06,"v":100.9},{"p":2,"s":2.991,"v":101.5},{"p":2,"s":4.156,"v":102.0},{"p":2,"s":5.32,"v":102.4},{"p":2,"s":6.484,"v":102.5},{"p":2,"s":7.648,"v":102.6},{"p":2,"s":8.695,"v":102.7},{"p":2,"s":9.394,"v":102.6},{"p":2,"s":10.209,"v":102.3},{"p":2,"s":11,"v":102.0}],
"sl":[
{"p":0,"s":0,"v":4.04},{"p":0,"s":0.466,"v":4.38},{"p":0,"s":1.164,"v":4.94},{"p":0,"s":1.862,"v":5.5},{"p":0,"s":2.561,"v":6.08},{"p":0,"s":3.259,"v":6.6},{"p":0,"s":3.958,"v":7.08},{"p":0,"s":4.656,"v":7.54},{"p":0,"s":5.354,"v":7.89},{"p":0,"s":6.053,"v":8.22},{"p":0,"s":6.751,"v":8.51},{"p":0,"s":7.45,"v":8.74},{"p":0,"s":8.148,"v":8.92},{"p":0,"s":8.847,"v":9.06},{"p":0,"s":9.545,"v":9.14},{"p":0,"s":10.011,"v":9.19},{"p":0,"s":10.243,"v":9.51},{"p":0,"s":10.534,"v":10.03},{"p":0,"s":11,"v":10.32},
{"p":1,"s":0,"v":3.84},{"p":1,"s":0.572,"v":4.46},{"p":1,"s":1.156,"v":5.06},{"p":1,"s":1.973,"v":5.98},{"p":1,"s":2.908,"v":6.95},{"p":1,"s":3.959,"v":8.02},{"p":1,"s":5.01,"v":8.9},{"p":1,"s":5.944,"v":9.56},{"p":1,"s":6.878,"v":10.07},{"p":1,"s":7.637,"v":10.39},{"p":1,"s":7.754,"v":10.97},{"p":1,"s":7.929,"v":11.49},{"p":1,"s":8.279,"v":11.98},{"p":1,"s":8.746,"v":12.4},{"p":1,"s":9.33,"v":12.76},{"p":1,"s":9.914,"v":13.0},{"p":1,"s":10.498,"v":13.16},{"p":1,"s":11,"v":13.24},
{"p":2,"s":0,"v":3.76},{"p":2,"s":0.525,"v":4.2},{"p":2,"s":0.991,"v":4.65},{"p":2,"s":1.575,"v":5.17},{"p":2,"s":2.041,"v":5.62},{"p":2,"s":2.974,"v":6.51},{"p":2,"s":4.024,"v":7.56},{"p":2,"s":5.058,"v":8.53},{"p":2,"s":5.991,"v":9.42},{"p":2,"s":7.041,"v":10.31},{"p":2,"s":7.741,"v":10.8},{"p":2,"s":8.616,"v":11.33},{"p":2,"s":8.791,"v":11.94},{"p":2,"s":8.908,"v":12.51},{"p":2,"s":9.258,"v":13.24},{"p":2,"s":9.841,"v":14.05},{"p":2,"s":10.324,"v":14.78},{"p":2,"s":11,"v":15.35}],
"oc":[
{"p":0,"b":1,"x":0,"y":2.5},{"p":0,"b":1,"x":2.29,"y":2.5},{"p":0,"b":1,"x":2.4,"y":2.75},{"p":0,"b":1,"x":2.5,"y":2.99},
{"p":0,"b":2,"x":0,"y":3.23},{"p":0,"b":2,"x":0.15,"y":3.06},{"p":0,"b":2,"x":0.3,"y":2.88},{"p":0,"b":2,"x":0.45,"y":2.68},{"p":0,"b":2,"x":0.59,"y":2.5},{"p":0,"b":2,"x":1.52,"y":2.5},{"p":0,"b":2,"x":1.6,"y":2.75},{"p":0,"b":2,"x":1.71,"y":3.09},{"p":0,"b":2,"x":1.84,"y":3.48},{"p":0,"b":2,"x":1.96,"y":3.84},{"p":0,"b":2,"x":2.08,"y":4.26},{"p":0,"b":2,"x":2.18,"y":4.64},{"p":0,"b":2,"x":2.24,"y":5},
{"p":0,"b":3,"x":0,"y":3.86},{"p":0,"b":3,"x":0.085,"y":3.685},{"p":0,"b":3,"x":0.17,"y":3.504},{"p":0,"b":3,"x":0.266,"y":3.323},{"p":0,"b":3,"x":0.388,"y":3.142},{"p":0,"b":3,"x":0.533,"y":2.961},{"p":0,"b":3,"x":0.703,"y":2.832},{"p":0,"b":3,"x":0.872,"y":2.767},{"p":0,"b":3,"x":0.993,"y":2.754},{"p":0,"b":3,"x":1.163,"y":2.78},{"p":0,"b":3,"x":1.332,"y":2.831},{"p":0,"b":3,"x":1.405,"y":2.857},{"p":0,"b":3,"x":1.453,"y":3.064},{"p":0,"b":3,"x":1.502,"y":3.271},{"p":0,"b":3,"x":1.599,"y":3.789},{"p":0,"b":3,"x":1.696,"y":4.177},{"p":0,"b":3,"x":1.768,"y":4.565},{"p":0,"b":3,"x":1.86,"y":5},
{"p":0,"b":4,"x":0,"y":4.436},{"p":0,"b":4,"x":0.097,"y":4.177},{"p":0,"b":4,"x":0.218,"y":3.892},{"p":0,"b":4,"x":0.363,"y":3.634},{"p":0,"b":4,"x":0.509,"y":3.452},{"p":0,"b":4,"x":0.678,"y":3.297},{"p":0,"b":4,"x":0.872,"y":3.181},{"p":0,"b":4,"x":0.969,"y":3.142},{"p":0,"b":4,"x":1.114,"y":3.147},{"p":0,"b":4,"x":1.26,"y":3.194},{"p":0,"b":4,"x":1.352,"y":3.284},{"p":0,"b":4,"x":1.386,"y":3.478},{"p":0,"b":4,"x":1.453,"y":3.892},{"p":0,"b":4,"x":1.526,"y":4.306},{"p":0,"b":4,"x":1.575,"y":4.669},{"p":0,"b":4,"x":1.613,"y":5},
{"p":0,"b":5,"x":0,"y":5},{"p":0,"b":5,"x":0.073,"y":4.772},{"p":0,"b":5,"x":0.17,"y":4.488},{"p":0,"b":5,"x":0.266,"y":4.255},{"p":0,"b":5,"x":0.388,"y":4.022},{"p":0,"b":5,"x":0.533,"y":3.789},{"p":0,"b":5,"x":0.678,"y":3.634},{"p":0,"b":5,"x":0.824,"y":3.543},{"p":0,"b":5,"x":0.896,"y":3.504},{"p":0,"b":5,"x":1.017,"y":3.517},{"p":0,"b":5,"x":1.163,"y":3.595},{"p":0,"b":5,"x":1.303,"y":3.706},{"p":0,"b":5,"x":1.332,"y":3.996},{"p":0,"b":5,"x":1.357,"y":4.255},{"p":0,"b":5,"x":1.386,"y":4.565},{"p":0,"b":5,"x":1.417,"y":4.824},{"p":0,"b":5,"x":1.466,"y":5},
{"p":0,"b":6,"x":0.145,"y":5},{"p":0,"b":6,"x":0.242,"y":4.695},{"p":0,"b":6,"x":0.363,"y":4.41},{"p":0,"b":6,"x":0.509,"y":4.177},{"p":0,"b":6,"x":0.654,"y":3.996},{"p":0,"b":6,"x":0.799,"y":3.879},{"p":0,"b":6,"x":0.945,"y":3.879},{"p":0,"b":6,"x":1.114,"y":3.944},{"p":0,"b":6,"x":1.231,"y":4.099},{"p":0,"b":6,"x":1.296,"y":4.177},{"p":0,"b":6,"x":1.303,"y":4.384},{"p":0,"b":6,"x":1.308,"y":4.565},{"p":0,"b":6,"x":1.32,"y":4.824},{"p":0,"b":6,"x":1.332,"y":5},
{"p":0,"b":7,"x":0.262,"y":5},{"p":0,"b":7,"x":0.363,"y":4.772},{"p":0,"b":7,"x":0.484,"y":4.565},{"p":0,"b":7,"x":0.63,"y":4.384},{"p":0,"b":7,"x":0.751,"y":4.281},{"p":0,"b":7,"x":0.921,"y":4.255},{"p":0,"b":7,"x":1.066,"y":4.306},{"p":0,"b":7,"x":1.187,"y":4.462},{"p":0,"b":7,"x":1.248,"y":4.604},{"p":0,"b":7,"x":1.26,"y":4.824},{"p":0,"b":7,"x":1.272,"y":5},
{"p":0,"b":8,"x":0.4,"y":5},{"p":0,"b":8,"x":0.509,"y":4.837},{"p":0,"b":8,"x":0.63,"y":4.708},{"p":0,"b":8,"x":0.739,"y":4.638},{"p":0,"b":8,"x":0.872,"y":4.648},{"p":0,"b":8,"x":1.017,"y":4.759},{"p":0,"b":8,"x":1.163,"y":5},
{"p":1,"b":2,"x":0,"y":3.287},{"p":1,"b":2,"x":0.119,"y":3.144},{"p":1,"b":2,"x":0.24,"y":3.027},{"p":1,"b":2,"x":0.361,"y":2.91},{"p":1,"b":2,"x":0.506,"y":2.793},{"p":1,"b":2,"x":0.676,"y":2.677},{"p":1,"b":2,"x":0.845,"y":2.586},{"p":1,"b":2,"x":1.003,"y":2.5},{"p":1,"b":2,"x":2.069,"y":2.5},{"p":1,"b":2,"x":2.202,"y":2.586},{"p":1,"b":2,"x":2.347,"y":2.677},{"p":1,"b":2,"x":2.5,"y":2.745},
{"p":1,"b":3,"x":0,"y":3.962},{"p":1,"b":3,"x":0.119,"y":3.663},{"p":1,"b":3,"x":0.24,"y":3.455},{"p":1,"b":3,"x":0.361,"y":3.3},{"p":1,"b":3,"x":0.531,"y":3.118},{"p":1,"b":3,"x":0.724,"y":2.988},{"p":1,"b":3,"x":0.918,"y":2.91},{"p":1,"b":3,"x":1.136,"y":2.884},{"p":1,"b":3,"x":1.33,"y":2.871},{"p":1,"b":3,"x":1.475,"y":2.871},{"p":1,"b":3,"x":1.645,"y":2.884},{"p":1,"b":3,"x":1.79,"y":2.962},{"p":1,"b":3,"x":1.936,"y":3.092},{"p":1,"b":3,"x":2.105,"y":3.248},{"p":1,"b":3,"x":2.25,"y":3.429},{"p":1,"b":3,"x":2.372,"y":3.611},{"p":1,"b":3,"x":2.5,"y":3.8},
{"p":1,"b":4,"x":0,"y":4.637},{"p":1,"b":4,"x":0.119,"y":4.234},{"p":1,"b":4,"x":0.24,"y":3.975},{"p":1,"b":4,"x":0.361,"y":3.767},{"p":1,"b":4,"x":0.506,"y":3.585},{"p":1,"b":4,"x":0.676,"y":3.455},{"p":1,"b":4,"x":0.845,"y":3.372},{"p":1,"b":4,"x":1.039,"y":3.331},{"p":1,"b":4,"x":1.233,"y":3.32},{"p":1,"b":4,"x":1.427,"y":3.32},{"p":1,"b":4,"x":1.596,"y":3.331},{"p":1,"b":4,"x":1.718,"y":3.481},{"p":1,"b":4,"x":1.839,"y":3.663},{"p":1,"b":4,"x":1.96,"y":3.897},{"p":1,"b":4,"x":2.081,"y":4.182},{"p":1,"b":4,"x":2.202,"y":4.494},{"p":1,"b":4,"x":2.323,"y":4.805},{"p":1,"b":4,"x":2.42,"y":5},
{"p":1,"b":5,"x":0.07,"y":5},{"p":1,"b":5,"x":0.143,"y":4.727},{"p":1,"b":5,"x":0.24,"y":4.442},{"p":1,"b":5,"x":0.361,"y":4.208},{"p":1,"b":5,"x":0.506,"y":4.026},{"p":1,"b":5,"x":0.676,"y":3.884},{"p":1,"b":5,"x":0.845,"y":3.793},{"p":1,"b":5,"x":1.015,"y":3.741},{"p":1,"b":5,"x":1.185,"y":3.728},{"p":1,"b":5,"x":1.378,"y":3.741},{"p":1,"b":5,"x":1.524,"y":3.767},{"p":1,"b":5,"x":1.621,"y":3.897},{"p":1,"b":5,"x":1.742,"y":4.104},{"p":1,"b":5,"x":1.863,"y":4.338},{"p":1,"b":5,"x":1.96,"y":4.598},{"p":1,"b":5,"x":2.032,"y":4.831},{"p":1,"b":5,"x":2.076,"y":5},
{"p":1,"b":6,"x":0.24,"y":5},{"p":1,"b":6,"x":0.337,"y":4.753},{"p":1,"b":6,"x":0.458,"y":4.546},{"p":1,"b":6,"x":0.603,"y":4.39},{"p":1,"b":6,"x":0.797,"y":4.26},{"p":1,"b":6,"x":0.991,"y":4.182},{"p":1,"b":6,"x":1.185,"y":4.164},{"p":1,"b":6,"x":1.378,"y":4.195},{"p":1,"b":6,"x":1.495,"y":4.221},{"p":1,"b":6,"x":1.548,"y":4.39},{"p":1,"b":6,"x":1.621,"y":4.598},{"p":1,"b":6,"x":1.693,"y":4.779},{"p":1,"b":6,"x":1.778,"y":5},
{"p":1,"b":7,"x":0.47,"y":5},{"p":1,"b":7,"x":0.579,"y":4.87},{"p":1,"b":7,"x":0.724,"y":4.753},{"p":1,"b":7,"x":0.894,"y":4.663},{"p":1,"b":7,"x":1.063,"y":4.618},{"p":1,"b":7,"x":1.233,"y":4.624},{"p":1,"b":7,"x":1.446,"y":4.688},{"p":1,"b":7,"x":1.495,"y":4.831},{"p":1,"b":7,"x":1.538,"y":5},
{"p":2,"b":2,"x":0,"y":3.287},{"p":2,"b":2,"x":0.134,"y":3.144},{"p":2,"b":2,"x":0.255,"y":3.04},{"p":2,"b":2,"x":0.377,"y":2.949},{"p":2,"b":2,"x":0.547,"y":2.858},{"p":2,"b":2,"x":0.741,"y":2.78},{"p":2,"b":2,"x":0.984,"y":2.703},{"p":2,"b":2,"x":1.227,"y":2.651},{"p":2,"b":2,"x":1.47,"y":2.612},{"p":2,"b":2,"x":1.713,"y":2.578},{"p":2,"b":2,"x":1.834,"y":2.547},{"p":2,"b":2,"x":1.956,"y":2.529},{"p":2,"b":2,"x":2.199,"y":2.521},{"p":2,"b":2,"x":2.5,"y":2.521},
{"p":2,"b":3,"x":0,"y":4},{"p":2,"b":3,"x":0.134,"y":3.793},{"p":2,"b":3,"x":0.255,"y":3.637},{"p":2,"b":3,"x":0.377,"y":3.512},{"p":2,"b":3,"x":0.547,"y":3.383},{"p":2,"b":3,"x":0.741,"y":3.287},{"p":2,"b":3,"x":0.984,"y":3.209},{"p":2,"b":3,"x":1.227,"y":3.149},{"p":2,"b":3,"x":1.47,"y":3.097},{"p":2,"b":3,"x":1.713,"y":3.053},{"p":2,"b":3,"x":1.859,"y":3.027},{"p":2,"b":3,"x":2.029,"y":3.027},{"p":2,"b":3,"x":2.199,"y":3.048},{"p":2,"b":3,"x":2.5,"y":3.079},
{"p":2,"b":4,"x":0,"y":4.714},{"p":2,"b":4,"x":0.134,"y":4.39},{"p":2,"b":4,"x":0.255,"y":4.156},{"p":2,"b":4,"x":0.377,"y":4.001},{"p":2,"b":4,"x":0.522,"y":3.871},{"p":2,"b":4,"x":0.692,"y":3.754},{"p":2,"b":4,"x":0.911,"y":3.663},{"p":2,"b":4,"x":1.105,"y":3.611},{"p":2,"b":4,"x":1.348,"y":3.572},{"p":2,"b":4,"x":1.591,"y":3.559},{"p":2,"b":4,"x":1.713,"y":3.546},{"p":2,"b":4,"x":1.774,"y":3.528},{"p":2,"b":4,"x":1.956,"y":3.546},{"p":2,"b":4,"x":2.199,"y":3.611},{"p":2,"b":4,"x":2.5,"y":3.694},
{"p":2,"b":5,"x":0.134,"y":5},{"p":2,"b":5,"x":0.207,"y":4.805},{"p":2,"b":5,"x":0.304,"y":4.624},{"p":2,"b":5,"x":0.425,"y":4.442},{"p":2,"b":5,"x":0.571,"y":4.286},{"p":2,"b":5,"x":0.741,"y":4.182},{"p":2,"b":5,"x":0.911,"y":4.117},{"p":2,"b":5,"x":1.105,"y":4.084},{"p":2,"b":5,"x":1.348,"y":4.065},{"p":2,"b":5,"x":1.591,"y":4.052},{"p":2,"b":5,"x":1.737,"y":4.052},{"p":2,"b":5,"x":1.956,"y":4.091},{"p":2,"b":5,"x":2.199,"y":4.208},{"p":2,"b":5,"x":2.345,"y":4.291},{"p":2,"b":5,"x":2.5,"y":4.39},
{"p":2,"b":6,"x":0.413,"y":5},{"p":2,"b":6,"x":0.522,"y":4.883},{"p":2,"b":6,"x":0.692,"y":4.766},{"p":2,"b":6,"x":0.911,"y":4.675},{"p":2,"b":6,"x":1.154,"y":4.624},{"p":2,"b":6,"x":1.397,"y":4.603},{"p":2,"b":6,"x":1.701,"y":4.603},{"p":2,"b":6,"x":1.834,"y":4.65},{"p":2,"b":6,"x":2.004,"y":4.766},{"p":2,"b":6,"x":2.174,"y":4.896},{"p":2,"b":6,"x":2.308,"y":5}],
"sc":[
{"p":0,"g":1,"b":1,"x":0.327,"y":2.5},{"p":0,"g":1,"b":1,"x":0.32,"y":3.017},{"p":0,"g":1,"b":1,"x":0.31,"y":3.536},{"p":0,"g":1,"b":1,"x":0.298,"y":4.055},{"p":0,"g":1,"b":1,"x":0.291,"y":4.574},{"p":0,"g":1,"b":1,"x":0.291,"y":5},
{"p":0,"g":2,"b":2,"x":0.484,"y":2.5},{"p":0,"g":2,"b":2,"x":0.468,"y":3.017},{"p":0,"g":2,"b":2,"x":0.451,"y":3.536},{"p":0,"g":2,"b":2,"x":0.436,"y":4.055},{"p":0,"g":2,"b":2,"x":0.426,"y":4.574},{"p":0,"g":2,"b":2,"x":0.424,"y":5},
{"p":0,"g":3,"b":3,"x":0.63,"y":2.5},{"p":0,"g":3,"b":3,"x":0.61,"y":3.017},{"p":0,"g":3,"b":3,"x":0.591,"y":3.536},{"p":0,"g":3,"b":3,"x":0.574,"y":4.055},{"p":0,"g":3,"b":3,"x":0.562,"y":4.574},{"p":0,"g":3,"b":3,"x":0.557,"y":5},
{"p":0,"g":4,"b":4,"x":0.787,"y":2.5},{"p":0,"g":4,"b":4,"x":0.763,"y":3.017},{"p":0,"g":4,"b":4,"x":0.744,"y":3.536},{"p":0,"g":4,"b":4,"x":0.727,"y":4.055},{"p":0,"g":4,"b":4,"x":0.717,"y":4.574},{"p":0,"g":4,"b":4,"x":0.715,"y":5},
{"p":0,"g":5,"b":5,"x":0.969,"y":2.5},{"p":0,"g":5,"b":5,"x":0.964,"y":3.017},{"p":0,"g":5,"b":5,"x":0.957,"y":3.536},{"p":0,"g":5,"b":5,"x":0.952,"y":4.055},{"p":0,"g":5,"b":5,"x":0.952,"y":4.574},{"p":0,"g":5,"b":5,"x":0.957,"y":5},
{"p":0,"g":6,"b":6,"x":1.235,"y":2.5},{"p":0,"g":6,"b":6,"x":1.231,"y":2.884},{"p":0,"g":6,"b":6,"x":1.231,"y":3.276},{"p":0,"g":6,"b":6,"x":1.26,"y":3.536},{"p":0,"g":6,"b":6,"x":1.296,"y":3.744},{"p":0,"g":6,"b":6,"x":1.303,"y":4.055},{"p":0,"g":6,"b":6,"x":1.303,"y":4.341},{"p":0,"g":6,"b":6,"x":1.274,"y":4.393},{"p":0,"g":6,"b":6,"x":1.279,"y":4.693},{"p":0,"g":6,"b":6,"x":1.279,"y":5},
{"p":0,"g":7,"b":7,"x":1.483,"y":2.5},{"p":0,"g":7,"b":7,"x":1.478,"y":2.757},{"p":0,"g":7,"b":7,"x":1.449,"y":3.017},{"p":0,"g":7,"b":7,"x":1.434,"y":3.198},{"p":0,"g":7,"b":7,"x":1.41,"y":3.263},{"p":0,"g":7,"b":7,"x":1.398,"y":3.536},{"p":0,"g":7,"b":7,"x":1.393,"y":3.925},{"p":0,"g":7,"b":7,"x":1.41,"y":4.185},{"p":0,"g":7,"b":7,"x":1.453,"y":4.444},{"p":0,"g":7,"b":7,"x":1.502,"y":4.574},{"p":0,"g":7,"b":7,"x":1.575,"y":4.652},{"p":0,"g":7,"b":7,"x":1.647,"y":4.678},
{"p":0,"g":8,"b":6,"x":2.5,"y":3.744},{"p":0,"g":8,"b":6,"x":2.422,"y":3.873},{"p":0,"g":8,"b":6,"x":2.326,"y":4.003},{"p":0,"g":8,"b":6,"x":2.229,"y":4.133},{"p":0,"g":8,"b":6,"x":2.083,"y":4.315},{"p":0,"g":8,"b":6,"x":1.938,"y":4.47},{"p":0,"g":8,"b":6,"x":1.817,"y":4.6},{"p":0,"g":8,"b":6,"x":1.744,"y":4.652},{"p":0,"g":8,"b":6,"x":1.647,"y":4.678},
{"p":0,"g":9,"b":8,"x":1.684,"y":2.5},{"p":0,"g":9,"b":8,"x":1.691,"y":2.627},{"p":0,"g":9,"b":8,"x":1.708,"y":2.731},{"p":0,"g":9,"b":8,"x":1.744,"y":2.796},{"p":0,"g":9,"b":8,"x":1.85,"y":2.825},
{"p":0,"g":10,"b":7,"x":2.18,"y":2.5},{"p":0,"g":10,"b":7,"x":2.083,"y":2.653},{"p":0,"g":10,"b":7,"x":1.986,"y":2.77},{"p":0,"g":10,"b":7,"x":1.92,"y":2.81},{"p":0,"g":10,"b":7,"x":1.85,"y":2.825},
{"p":1,"g":1,"b":1,"x":0.361,"y":2.5},{"p":1,"g":1,"b":1,"x":0.35,"y":3.0},{"p":1,"g":1,"b":1,"x":0.335,"y":3.6},{"p":1,"g":1,"b":1,"x":0.322,"y":4.3},{"p":1,"g":1,"b":1,"x":0.312,"y":5},
{"p":1,"g":2,"b":2,"x":0.535,"y":2.5},{"p":1,"g":2,"b":2,"x":0.51,"y":3.0},{"p":1,"g":2,"b":2,"x":0.49,"y":3.6},{"p":1,"g":2,"b":2,"x":0.475,"y":4.3},{"p":1,"g":2,"b":2,"x":0.463,"y":5},
{"p":1,"g":3,"b":3,"x":0.655,"y":2.5},{"p":1,"g":3,"b":3,"x":0.64,"y":3.0},{"p":1,"g":3,"b":3,"x":0.625,"y":3.6},{"p":1,"g":3,"b":3,"x":0.615,"y":4.3},{"p":1,"g":3,"b":3,"x":0.61,"y":5},
{"p":1,"g":4,"b":4,"x":0.8,"y":2.5},{"p":1,"g":4,"b":4,"x":0.79,"y":3.0},{"p":1,"g":4,"b":4,"x":0.775,"y":3.6},{"p":1,"g":4,"b":4,"x":0.765,"y":4.3},{"p":1,"g":4,"b":4,"x":0.761,"y":5},
{"p":1,"g":5,"b":5,"x":0.92,"y":2.5},{"p":1,"g":5,"b":5,"x":0.93,"y":3.0},{"p":1,"g":5,"b":5,"x":0.94,"y":3.6},{"p":1,"g":5,"b":5,"x":0.935,"y":4.3},{"p":1,"g":5,"b":5,"x":0.93,"y":5},
{"p":1,"g":6,"b":6,"x":1.1,"y":2.5},{"p":1,"g":6,"b":6,"x":1.115,"y":3.0},{"p":1,"g":6,"b":6,"x":1.13,"y":3.6},{"p":1,"g":6,"b":6,"x":1.145,"y":4.3},{"p":1,"g":6,"b":6,"x":1.153,"y":5},
{"p":1,"g":7,"b":7,"x":1.43,"y":2.5},{"p":1,"g":7,"b":7,"x":1.41,"y":3.0},{"p":1,"g":7,"b":7,"x":1.4,"y":3.6},{"p":1,"g":7,"b":7,"x":1.43,"y":4.2},{"p":1,"g":7,"b":7,"x":1.46,"y":4.5},{"p":1,"g":7,"b":7,"x":1.456,"y":5},
{"p":1,"g":8,"b":8,"x":1.62,"y":2.5},{"p":1,"g":8,"b":8,"x":1.59,"y":3.0},{"p":1,"g":8,"b":8,"x":1.57,"y":3.6},{"p":1,"g":8,"b":8,"x":1.55,"y":4.2},{"p":1,"g":8,"b":8,"x":1.51,"y":4.5},{"p":1,"g":8,"b":8,"x":1.504,"y":5},
{"p":1,"g":9,"b":9,"x":1.74,"y":2.5},{"p":1,"g":9,"b":9,"x":1.68,"y":3.0},{"p":1,"g":9,"b":9,"x":1.65,"y":3.6},{"p":1,"g":9,"b":9,"x":1.68,"y":4.2},{"p":1,"g":9,"b":9,"x":1.73,"y":4.7},{"p":1,"g":9,"b":9,"x":1.766,"y":5},
{"p":1,"g":10,"b":10,"x":1.868,"y":2.5},{"p":1,"g":10,"b":10,"x":1.851,"y":3.017},{"p":1,"g":10,"b":10,"x":1.863,"y":3.406},{"p":1,"g":10,"b":10,"x":1.911,"y":3.64},{"p":1,"g":10,"b":10,"x":1.96,"y":3.795},{"p":1,"g":10,"b":10,"x":2.057,"y":3.873},{"p":1,"g":10,"b":10,"x":2.141,"y":3.899},
{"p":1,"g":11,"b":9,"x":2.5,"y":3.757},{"p":1,"g":11,"b":9,"x":2.372,"y":3.808},{"p":1,"g":11,"b":9,"x":2.25,"y":3.873},{"p":1,"g":11,"b":9,"x":2.141,"y":3.899},
{"p":1,"g":12,"b":8,"x":2.5,"y":4.808},{"p":1,"g":12,"b":8,"x":2.432,"y":4.886},{"p":1,"g":12,"b":8,"x":2.372,"y":4.951},{"p":1,"g":12,"b":8,"x":2.323,"y":5},
{"p":1,"g":13,"b":11,"x":2.214,"y":2.5},{"p":1,"g":13,"b":11,"x":2.238,"y":2.601},{"p":1,"g":13,"b":11,"x":2.275,"y":2.679},{"p":1,"g":13,"b":11,"x":2.347,"y":2.757},{"p":1,"g":13,"b":11,"x":2.5,"y":2.757},
{"p":2,"g":1,"b":1,"x":0.396,"y":2.5},{"p":2,"g":1,"b":1,"x":0.372,"y":3.1},{"p":2,"g":1,"b":1,"x":0.357,"y":3.8},{"p":2,"g":1,"b":1,"x":0.345,"y":4.4},{"p":2,"g":1,"b":1,"x":0.335,"y":5},
{"p":2,"g":2,"b":2,"x":0.595,"y":2.5},{"p":2,"g":2,"b":2,"x":0.555,"y":3.1},{"p":2,"g":2,"b":2,"x":0.527,"y":3.8},{"p":2,"g":2,"b":2,"x":0.51,"y":4.4},{"p":2,"g":2,"b":2,"x":0.498,"y":5},
{"p":2,"g":3,"b":3,"x":0.77,"y":2.5},{"p":2,"g":3,"b":3,"x":0.725,"y":3.1},{"p":2,"g":3,"b":3,"x":0.692,"y":3.8},{"p":2,"g":3,"b":3,"x":0.675,"y":4.4},{"p":2,"g":3,"b":3,"x":0.663,"y":5},
{"p":2,"g":4,"b":4,"x":0.96,"y":2.5},{"p":2,"g":4,"b":4,"x":0.89,"y":3.1},{"p":2,"g":4,"b":4,"x":0.838,"y":3.8},{"p":2,"g":4,"b":4,"x":0.823,"y":4.4},{"p":2,"g":4,"b":4,"x":0.814,"y":5},
{"p":2,"g":5,"b":5,"x":1.142,"y":2.5},{"p":2,"g":5,"b":5,"x":1.05,"y":3.1},{"p":2,"g":5,"b":5,"x":0.989,"y":3.8},{"p":2,"g":5,"b":5,"x":0.982,"y":4.4},{"p":2,"g":5,"b":5,"x":0.979,"y":5},
{"p":2,"g":6,"b":6,"x":1.329,"y":2.5},{"p":2,"g":6,"b":6,"x":1.24,"y":3.1},{"p":2,"g":6,"b":6,"x":1.178,"y":3.8},{"p":2,"g":6,"b":6,"x":1.165,"y":4.4},{"p":2,"g":6,"b":6,"x":1.159,"y":5},
{"p":2,"g":7,"b":7,"x":1.514,"y":2.5},{"p":2,"g":7,"b":7,"x":1.44,"y":3.1},{"p":2,"g":7,"b":7,"x":1.385,"y":3.8},{"p":2,"g":7,"b":7,"x":1.377,"y":4.4},{"p":2,"g":7,"b":7,"x":1.373,"y":5},
{"p":2,"g":8,"b":8,"x":1.713,"y":2.5},{"p":2,"g":8,"b":8,"x":1.66,"y":3.1},{"p":2,"g":8,"b":8,"x":1.616,"y":3.8},{"p":2,"g":8,"b":8,"x":1.62,"y":4.4},{"p":2,"g":8,"b":8,"x":1.6,"y":4.7},{"p":2,"g":8,"b":8,"x":1.606,"y":5},
{"p":2,"g":9,"b":9,"x":1.834,"y":2.5},{"p":2,"g":9,"b":9,"x":1.76,"y":3.1},{"p":2,"g":9,"b":9,"x":1.701,"y":3.8},{"p":2,"g":9,"b":9,"x":1.685,"y":4.4},{"p":2,"g":9,"b":9,"x":1.676,"y":5},
{"p":2,"g":10,"b":10,"x":1.895,"y":2.5},{"p":2,"g":10,"b":10,"x":1.83,"y":3.1},{"p":2,"g":10,"b":10,"x":1.786,"y":3.8},{"p":2,"g":10,"b":10,"x":1.76,"y":4.4},{"p":2,"g":10,"b":10,"x":1.749,"y":5},
{"p":2,"g":11,"b":11,"x":2.0,"y":2.5},{"p":2,"g":11,"b":11,"x":1.95,"y":3.1},{"p":2,"g":11,"b":11,"x":1.919,"y":3.8},{"p":2,"g":11,"b":11,"x":1.895,"y":4.4},{"p":2,"g":11,"b":11,"x":1.888,"y":5},
{"p":2,"g":12,"b":12,"x":2.138,"y":2.5},{"p":2,"g":12,"b":12,"x":2.114,"y":2.757},{"p":2,"g":12,"b":12,"x":2.077,"y":3.017},{"p":2,"g":12,"b":12,"x":2.041,"y":3.536},{"p":2,"g":12,"b":12,"x":2.041,"y":3.925},{"p":2,"g":12,"b":12,"x":2.065,"y":4.315},{"p":2,"g":12,"b":12,"x":2.114,"y":4.704},{"p":2,"g":12,"b":12,"x":2.15,"y":5}]
}
}
